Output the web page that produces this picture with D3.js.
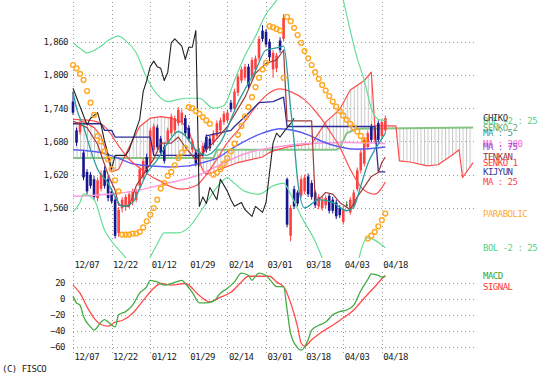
<!DOCTYPE html>
<html lang="en">
<head>
<meta charset="UTF-8">
<title>Chart</title>
<script src="https://cdn.jsdelivr.net/npm/d3@7"></script>
<style>
body{margin:0;background:#fff}
text{font-family:"DejaVu Sans Mono",monospace;font-size:9px;letter-spacing:-0.5px}
</style>
</head>
<body>
<svg id="chart" width="552" height="377"></svg>
<script>
// x axis
var dateLabels=['12/07','12/22','01/12','01/29','02/14','03/01','03/18','04/03','04/18']
var dateIdx=[0,11,22,33,44,55,66,77,88]
var priceTicks=[1560,1620,1680,1740,1800,1860]
var macdTicks=[20,0,-20,-40,-60]

// candles [open,high,low,close]
var candles=[
[1752,1770,1728,1732],[1700,1705,1672,1678],[1697,1720,1692,1713],[1660,1665,1610,1615],[1625,1630,1585,1590],
[1620,1625,1595,1600],[1612,1618,1575,1580],[1578,1615,1572,1610],[1595,1628,1590,1622],[1628,1635,1595,1600],
[1612,1618,1572,1578],[1590,1596,1568,1572],[1575,1580,1505,1510],[1515,1562,1508,1557],[1560,1580,1552,1575],
[1562,1585,1555,1580],[1565,1590,1560,1585],[1572,1595,1565,1590],[1575,1595,1570,1590],[1600,1635,1595,1630],
[1615,1650,1610,1645],[1652,1658,1620,1625],[1640,1705,1635,1700],[1665,1712,1660,1707],[1705,1710,1665,1670],
[1685,1690,1655,1660],[1670,1675,1640,1645],[1680,1705,1675,1700],[1695,1730,1690,1725],[1700,1727,1695,1722],
[1713,1742,1708,1737],[1715,1738,1710,1732],[1722,1728,1690,1695],[1705,1710,1680,1685],[1665,1685,1660,1680],
[1660,1665,1635,1640],[1640,1668,1635,1662],[1655,1678,1650,1672],[1688,1693,1660,1665],[1685,1690,1663,1668],
[1678,1700,1673,1695],[1690,1718,1685,1713],[1700,1723,1695,1718],[1715,1735,1710,1730],[1718,1738,1713,1732],
[1750,1755,1733,1738],[1740,1775,1735,1770],[1768,1802,1762,1797],[1790,1815,1785,1810],[1795,1820,1790,1815],
[1815,1820,1775,1780],[1797,1832,1792,1827],[1810,1835,1805,1830],[1830,1870,1825,1865],[1880,1890,1860,1865],
[1878,1883,1850,1855],[1860,1865,1825,1832],[1810,1845,1795,1840],[1812,1840,1805,1835],[1862,1868,1840,1845],
[1865,1910,1860,1903],[1612,1615,1525,1530],[1510,1565,1500,1560],[1594,1600,1558,1563],[1588,1592,1563,1568],
[1582,1617,1578,1612],[1590,1620,1585,1615],[1617,1622,1580,1585],[1605,1610,1575,1580],[1588,1592,1560,1565],
[1563,1585,1558,1580],[1560,1580,1555,1575],[1565,1583,1560,1578],[1582,1587,1550,1555],[1575,1580,1550,1555],
[1570,1575,1540,1545],[1560,1565,1542,1547],[1535,1563,1530,1558],[1566,1572,1560,1566],[1552,1580,1548,1575],
[1563,1593,1558,1588],[1594,1633,1590,1628],[1628,1665,1622,1660],[1640,1688,1635,1683],[1670,1700,1665,1695],
[1707,1712,1678,1683],[1683,1710,1678,1705],[1713,1718,1678,1683],[1690,1720,1685,1715],[1700,1727,1695,1722]]

// lines, [index,value]
var ma5=[[0,1770],[1,1740],[3,1707],[5,1665],[7,1630],[10,1605],[12,1580],[14,1563],[17,1570],[19,1595],[21,1622],[24,1647],[27,1677],[30,1698],[32,1690],[35,1665],[38,1655],[42,1678],[47,1750],[52,1808],[55,1845],[59,1850],[60,1852],[62,1740],[63,1680],[64,1610],[66,1560],[70,1575],[74,1570],[78,1555],[80,1562],[82,1600],[84,1640],[86,1665],[88,1685],[89,1695]]
var ma25=[[0,1720],[5,1718],[8,1712],[10,1700],[13,1672],[16,1648],[19,1632],[22,1618],[25,1608],[28,1598],[31,1594],[35,1600],[38,1620],[41,1648],[44,1678],[47,1700],[50,1725],[53,1750],[56,1768],[59,1775],[62,1770],[66,1755],[69,1735],[71,1719],[73,1700],[76,1670],[79,1630],[82,1598],[84,1588],[86,1585],[89,1607]]
var ma75=[[0,1665],[8,1660],[12,1652],[17,1640],[22,1636],[27,1634],[33,1636],[37,1642],[41,1650],[46,1670],[54,1695],[59,1703],[63,1700],[67,1692],[71,1680],[76,1670],[81,1666],[89,1670]]
var ma200=[[0,1581],[10,1585],[17,1590],[27,1605],[36,1620],[40,1632],[49,1658],[59,1671],[68,1677],[78,1678],[89,1676]]
var bolUp=[[0,1858],[2,1848],[4,1840],[8,1852],[10,1862],[13,1870],[15,1862],[18,1840],[21,1795],[24,1765],[27,1752],[32,1758],[36,1758],[40,1740],[43,1745],[46,1790],[49,1835],[52,1870],[55,1910],[58,1935],[60,1960],[64,2000],[70,2010],[75,1980],[77,1935],[79,1880],[81,1830],[83,1790],[85,1740],[87,1720],[89,1718]]
var bolDn=[[0,1553],[2,1570],[3,1585],[6,1575],[9,1520],[11,1500],[15,1470],[17,1450],[21,1462],[24,1495],[26,1515],[30,1515],[33,1525],[37,1560],[42,1605],[44,1615],[45,1610],[49,1590],[53,1585],[57,1600],[60,1605],[62,1585],[65,1545],[69,1500],[71,1470],[75,1420],[80,1440],[83,1500],[84,1506],[89,1488]]
var tenkan=[[0,1717],[4,1705],[7,1675],[10,1620],[12,1592],[13,1565],[16,1563],[18,1600],[21,1630],[23,1648],[25,1677],[28,1677],[30,1688],[32,1670],[35,1647],[40,1678],[44,1707],[49,1760],[52,1803],[55,1821],[58,1827],[60,1845],[61,1717],[68,1717],[69,1575],[70,1575],[72,1588],[74,1585],[76,1570],[79,1557],[81,1580],[83,1598],[85,1617],[87,1624],[88,1642],[89,1652]]
var kijun=[[0,1712],[8,1712],[9,1700],[11,1700],[12,1688],[22,1688],[23,1655],[37,1655],[38,1690],[45,1700],[46,1707],[50,1731],[53,1750],[57,1752],[60,1760],[61,1707],[86,1707],[87,1625],[89,1625]]
var senko1=[[0,1712],[3,1716],[6,1705],[8,1690],[10,1650],[11,1625],[13,1630],[16,1670],[19,1707],[22,1722],[25,1725],[28,1722],[31,1715],[33,1700],[35,1660],[37,1628],[38,1620],[42,1630],[47,1642],[54,1652],[56,1660],[58,1665],[61,1670],[68,1676],[71,1705],[72,1715],[76,1738],[79,1773],[83,1790],[85,1805],[86,1708],[92,1708],[93,1645],[96,1643],[101,1636],[104,1638],[108,1655],[110,1665],[111,1615],[114,1642]]
var senko2=[[0,1650],[40,1650],[41,1665],[75,1665],[76,1668],[78,1695],[81,1703],[114,1705]]
var chiko=[[0,1776],[2,1743],[4,1710],[5,1722],[7,1732],[8,1710],[9,1680],[10,1657],[11,1630],[12,1655],[15,1655],[16,1665],[19,1720],[20,1770],[21,1790],[22,1815],[23,1825],[24,1815],[25,1812],[26,1790],[27,1805],[28,1858],[29,1865],[31,1852],[32,1828],[33,1850],[34,1850],[35,1880],[36,1563],[37,1580],[38,1568],[39,1597],[41,1575],[42,1612],[44,1590],[45,1575],[46,1563],[48,1570],[49,1557],[51,1545],[52,1563],[54,1552],[55,1570],[56,1624],[57,1677],[58,1695],[59,1688],[61,1705],[62,1712],[63,1722]]
var sar=[1818,1812,1802,1791,1771,1750,1728,1690,1680,1662,1648,1630,1610,1590,1512,1512,1512,1514,1514,1517,
1525,1536,1548,1560,1575,1595,1605,1618,1625,1637,1650,1660,1668,1742,1740,1735,1730,1724,1718,1712,
1620,1624,1630,1640,1650,1662,1676,1692,1708,1725,1742,1760,1778,1795,1810,1822,1888,1886,1883,1880,
1795,1905,1897,1885,1872,1858,1843,1830,1818,1805,1793,1782,1772,1762,1752,1743,1735,1727,1719,1712,
1705,1698,1690,1682,1505,1510,1517,1527,1538,1550]
var macd=[[0,3],[1,-5],[2,-8],[3,-22],[5,-35],[6,-39],[8,-29],[9,-26],[10,-29],[12,-35],[13,-20],[15,-16],[17,-8],[19,7],[21,15],[22,23],[24,21],[26,17],[28,19],[31,23],[32,19],[34,8],[36,-5],[38,-5],[40,-3],[42,7],[44,13],[46,21],[48,32],[50,29],[51,23],[52,28],[53,32],[55,29],[57,19],[58,15],[60,15],[61,-14],[62,-43],[64,-61],[65,-64],[67,-51],[68,-39],[70,-33],[72,-29],[74,-20],[76,-16],[78,-14],[80,-8],[82,10],[84,24],[85,31],[87,29],[88,27],[89,28]]
var signal=[[0,17],[2,7],[4,-10],[6,-24],[8,-32],[10,-34],[12,-29],[14,-27],[17,-18],[20,-2],[23,13],[25,19],[28,17],[32,19],[36,4],[39,-4],[42,2],[45,8],[48,21],[50,28],[53,28],[56,28],[58,21],[60,15],[62,-5],[64,-35],[65,-55],[66,-59],[68,-51],[71,-41],[74,-33],[77,-24],[80,-14],[83,1],[86,15],[88,25],[89,29]]

var svg=d3.select('#chart')
var x=d3.scaleLinear().domain([0,114]).range([73,473.1])
var y=d3.scaleLinear().domain([1560,1860]).range([208,41.7])
var ym=d3.scaleLinear().domain([-60,20]).range([347,282.7])
var step=x(1)-x(0)

var defs=svg.append('defs')
defs.append('clipPath').attr('id','clipMain').append('rect').attr('x',70).attr('y',0).attr('width',405).attr('height',258)
var pat=defs.append('pattern').attr('id','hatch').attr('patternUnits','userSpaceOnUse')
	.attr('x',x(0)).attr('y',0).attr('width',step).attr('height',20)
pat.append('line').attr('x1',0.5).attr('x2',0.5).attr('y1',0).attr('y2',20).attr('stroke','#c6c6c6').attr('stroke-width',1)

// grid
var grid=svg.append('g').attr('stroke','#999').attr('stroke-width',1).attr('stroke-dasharray','1,3')
priceTicks.forEach(function(v){
	var yy=Math.round(y(v))+0.5
	grid.append('line').attr('x1',73).attr('x2',474).attr('y1',yy).attr('y2',yy)
})
macdTicks.forEach(function(v){
	var yy=Math.round(ym(v))+0.5
	grid.append('line').attr('x1',73).attr('x2',474).attr('y1',yy).attr('y2',yy)
})
dateIdx.forEach(function(i){
	var xx=Math.round(x(i))+0.5
	grid.append('line').attr('x1',xx).attr('x2',xx).attr('y1',2).attr('y2',258)
	grid.append('line').attr('x1',xx).attr('x2',xx).attr('y1',272).attr('y2',353)
})

// axes
function styleAxis(g){
	g.select('.domain').remove()
	g.selectAll('line').remove()
	g.attr('font-family','DejaVu Sans Mono').attr('font-size',9)
	g.selectAll('text').attr('fill','#222')
}
svg.append('g').attr('transform','translate(71,0)')
	.call(d3.axisLeft(y).tickValues(priceTicks).tickFormat(d3.format(',')).tickSize(0).tickPadding(3))
	.call(styleAxis)
svg.append('g').attr('transform','translate(68,0)')
	.call(d3.axisLeft(ym).tickValues(macdTicks).tickSize(0).tickPadding(3))
	.call(styleAxis)
function dateAxis(yy){
	svg.append('g').attr('transform','translate(0,'+yy+')')
		.call(d3.axisBottom(x).tickValues(dateIdx).tickFormat(function(d,k){return dateLabels[k]}).tickSize(0).tickPadding(0))
		.call(styleAxis)
		.selectAll('text').attr('text-anchor','start').attr('dx',1).attr('dy','0.35em').attr('y',0)
}
dateAxis(265)
dateAxis(357)

var main=svg.append('g').attr('clip-path','url(#clipMain)')

// ichimoku cloud
var lin=d3.line().x(function(d){return x(d[0])}).y(function(d){return y(d[1])})
main.append('path')
	.attr('d',lin(senko1.concat(senko2.slice().reverse()))+'Z')
	.attr('fill','url(#hatch)').attr('fill-rule','evenodd').attr('stroke','none')

function drawLine(pts,color,w,curve,sc){
	var s=sc||y
	var g=sc?svg:main
	g.append('path').datum(pts)
		.attr('fill','none').attr('stroke',color).attr('stroke-width',w)
		.attr('stroke-linejoin','round')
		.attr('d',d3.line().x(function(d){return x(d[0])}).y(function(d){return s(d[1])}).curve(curve||d3.curveLinear))
}
drawLine(senko2,'#86c486',2)
drawLine(senko1,'#ff4a4a',1.2)

// candles
var cw=2.6
var cg=main.append('g')
candles.forEach(function(c,i){
	var col=c[3]>c[0]?'#ff4040':(c[3]<c[0]?'#16168f':'#2a6a2a')
	var cx=x(i)
	cg.append('line').attr('x1',cx).attr('x2',cx).attr('y1',y(c[1])).attr('y2',y(c[2]))
		.attr('stroke',col).attr('stroke-width',1)
	var top=y(Math.max(c[0],c[3])), bot=y(Math.min(c[0],c[3]))
	cg.append('rect').attr('x',cx-cw/2).attr('y',top).attr('width',cw).attr('height',Math.max(1,bot-top))
		.attr('fill',col)
})

drawLine(ma200,'#ff99dd',1.5,d3.curveMonotoneX)
drawLine(ma75,'#5a5af5',1.5,d3.curveMonotoneX)
drawLine(ma25,'#ff5050',1.2,d3.curveMonotoneX)
drawLine(kijun,'#2c2c96',1.3)
drawLine(tenkan,'#a03a3a',1.2)
drawLine(bolUp,'#66dd99',1.2,d3.curveMonotoneX)
drawLine(bolDn,'#66dd99',1.2,d3.curveMonotoneX)
drawLine(chiko,'#222',1.1)
drawLine(ma5,'#2a9e9e',1.3,d3.curveMonotoneX)

// parabolic
main.append('g').selectAll('circle').data(sar).enter().append('circle')
	.attr('cx',function(d,i){return x(i)}).attr('cy',function(d){return y(d)})
	.attr('r',2.4).attr('fill','none').attr('stroke','#ffa820').attr('stroke-width',1.4)

// macd
drawLine(signal,'#ff4c4c',1.3,d3.curveMonotoneX,ym)
drawLine(macd,'#44aa44',1.3,d3.curveMonotoneX,ym)

// legend, placed at the last value of each line (overlaps as in the source chart)
function last(a){return a[a.length-1][1]}
var legend=[
	{t:'BOL +2 : 25',c:'#55d088',v:last(bolUp)},
	{t:'CHIKO',c:'#333',v:last(chiko)},
	{t:'SENKO 2',c:'#66aa66',v:last(senko2)},
	{t:'MA : 5',c:'#2a9e9e',v:last(ma5)},
	{t:'MA : 200',c:'#ff66cc',v:last(ma200)},
	{t:'MA : 75',c:'#9a3ee0',v:last(ma75)},
	{t:'TENKAN',c:'#993333',v:last(tenkan)},
	{t:'SENKO 1',c:'#ff3a3a',v:last(senko1)},
	{t:'KIJYUN',c:'#333399',v:last(kijun)},
	{t:'MA : 25',c:'#ff4444',v:last(ma25)},
	{t:'PARABOLIC',c:'#ffaa33',v:sar[sar.length-1]},
	{t:'BOL -2 : 25',c:'#55d088',v:last(bolDn)}
]
svg.append('g').selectAll('text').data(legend).enter().append('text')
	.attr('x',483).attr('y',function(d){return y(d.v)}).attr('dy','0.35em')
	.attr('fill',function(d){return d.c}).text(function(d){return d.t})
var ly=ym(last(macd))
svg.append('text').attr('x',483).attr('y',ly).attr('dy','0.35em').attr('fill','#33aa33').text('MACD')
svg.append('text').attr('x',483).attr('y',ly+11).attr('dy','0.35em').attr('fill','#ff3333').text('SIGNAL')

svg.append('text').attr('x',2).attr('y',369).attr('dy','0.35em').attr('fill','#222').text('(C) FISCO')
</script>
</body>
</html>
